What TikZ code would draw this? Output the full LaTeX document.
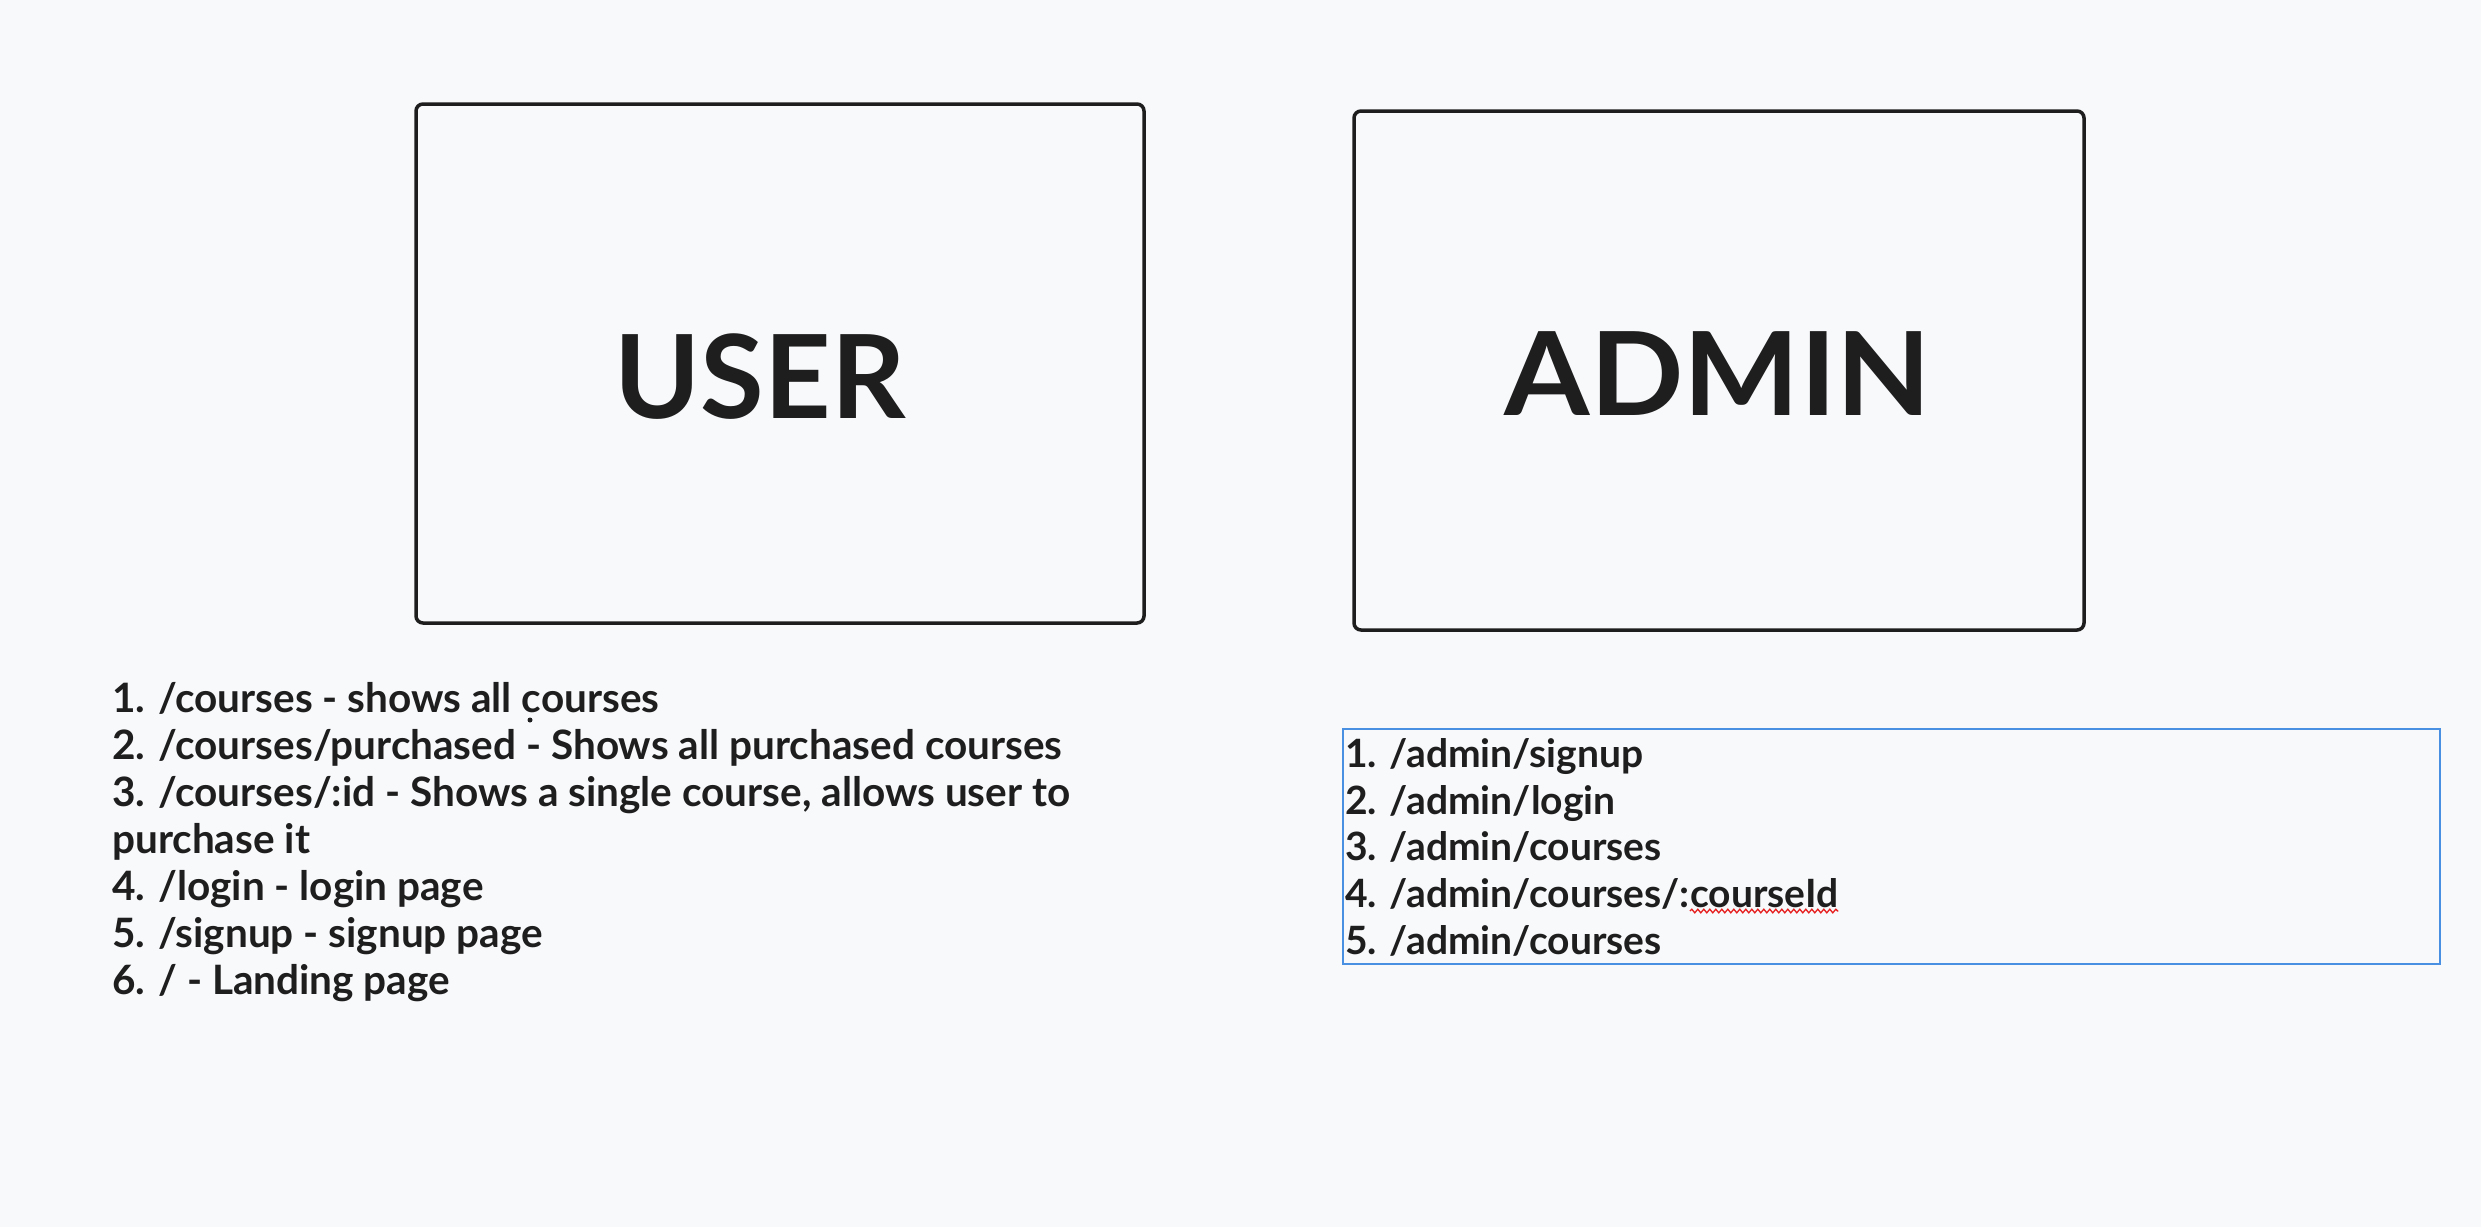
\documentclass[tikz,border=0pt]{standalone}
\usepackage{fontspec}
\setmainfont{Lato}
\usetikzlibrary{decorations.pathmorphing}
\definecolor{bg}{RGB}{248,249,251}
\definecolor{ink}{RGB}{30,30,30}
\definecolor{sel}{RGB}{74,144,226}
\definecolor{spell}{RGB}{230,30,30}
\begin{document}
\begin{tikzpicture}[x=1pt,y=-1pt,
  box/.style={draw=ink, line width=3.5pt, rounded corners=7pt, inner sep=0pt},
  title/.style={font=\fontsize{116}{130}\selectfont\bfseries, text=ink, anchor=base, inner sep=0pt},
  item/.style={font=\fontsize{39}{46}\selectfont\bfseries, text=ink, anchor=base west, inner sep=0pt},
  uitem/.style={item, font=\fontsize{40.5}{46}\selectfont\bfseries},
  selbox/.style={draw=sel, line width=2.5pt, inner sep=0pt},
  squiggle/.style={draw=spell, line width=1.3pt, decorate, decoration={snake, amplitude=1.8pt, segment length=6pt}}]
\fill[bg] (0,0) rectangle (2481,1227);
\useasboundingbox (0,0) rectangle (2481,1227);
% boxes
\node[box, minimum width=728pt, minimum height=519pt] (user) at (780,363.5) {};
\node[box, minimum width=730pt, minimum height=519pt] (admin) at (1719,370.5) {};
\node[title] (usert) at (760,418) {USER};
\node[title] (admint) at (1718,415) {\scalebox{1.06}[1]{ADMIN}};
% user list
\node[uitem] (u1) at (112,712) {1. /courses - shows all courses};
\node[uitem] (u2) at (112,759) {2. /courses/purchased - Shows all purchased courses};
\node[uitem] (u3) at (112,806) {3. /courses/:id - Shows a single course, allows user to};
\node[uitem] (u3b) at (112,853) {purchase it};
\node[uitem] (u4) at (112,900) {4. /login - login page};
\node[uitem] (u5) at (112,947) {5. /signup - signup page};
\node[uitem] (u6) at (112,994) {6. / - Landing page};
\fill[ink] (530,720) circle (2.5pt);
% admin list
\node[selbox, minimum width=1097pt, minimum height=235pt] (sel) at (1891.5,846.5) {};
\node[item] (a1) at (1345,767) {1. /admin/signup};
\node[item] (a2) at (1345,814) {2. /admin/login};
\node[item] (a3) at (1345,860) {3. /admin/courses};
\node[item] (a4) at (1345,907) {4. /admin/courses/:};
\node[item] (a4b) at (a4.base east) {courseId};
\node[item] (a5) at (1345,954) {5. /admin/courses};
\draw[squiggle] ([yshift=-4pt]a4b.base west) -- ([yshift=-4pt]a4b.base east);
\end{tikzpicture}
\end{document}
